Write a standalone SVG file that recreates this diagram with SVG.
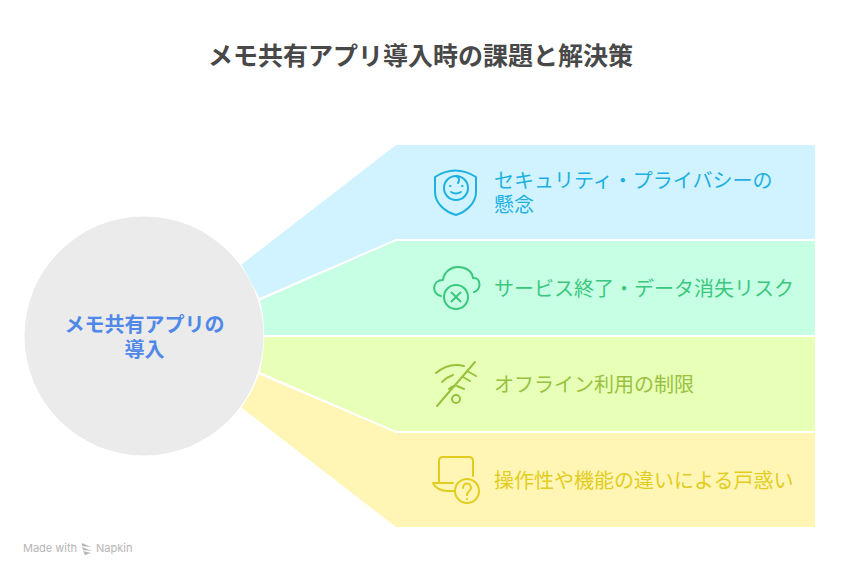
<svg xmlns="http://www.w3.org/2000/svg" width="841" height="576" viewBox="0 0 841 576">
<style>
text{font-family:"Noto Sans CJK JP","Noto Sans",sans-serif}
.t{font-size:20px;font-weight:400}
.c{font-size:20px;font-weight:700;fill:#4f88e8;text-anchor:middle}
.m{font-size:11px;font-family:"Inter","Noto Sans",sans-serif}
.i{fill:none;stroke-width:2;stroke-linecap:round;stroke-linejoin:round}
</style>
<rect width="841" height="576" fill="#fff"/>
<text x="420.500" y="65" text-anchor="middle" font-size="25" font-weight="700" fill="#484848">メモ共有アプリ導入時の課題と解決策</text>
<g id="connectors">
<path d="M241.500 264.500L396 145H815V239H396L259.500 298Z" fill="#d0f3ff"/>
<path d="M260 300.500L396 241H815V335H264Q264 315 260 300.500Z" fill="#c7ffe4"/>
<path d="M264 337H815V431H396L260 372Q264 355 264 337Z" fill="#e8ffb7"/>
<path d="M259 374.500L396 433H815V527H396L241.500 407.500Q252 393 259 374.500Z" fill="#fff6b5"/>
</g>
<g id="center">
<circle cx="144" cy="336" r="119.500" fill="#ebebeb"/>
<text class="c"><tspan x="144.500" y="332">メモ共有アプリの</tspan><tspan x="144.500" y="357">導入</tspan></text>
</g>
<g id="node-security">
<g class="i" stroke="#1eb0e0">
<path d="M435 177Q455 164 476 177V192C476 203 466 212 456 215C445 212 435 203 435 192Z"/>
<circle cx="456" cy="188" r="12"/>
<path d="M456 176Q461 178 458 183"/><path d="M451 192Q456 195 461 192"/>
<path d="M450 186h.5M462 186h.5"/>
</g>
<text class="t" fill="#1eb0e0"><tspan x="494" y="188">セキュリティ・プライバシーの</tspan><tspan x="494" y="212">懸念</tspan></text>
</g>
<g id="node-service">
<g class="i" stroke="#3cc77e">
<path d="M441 296C431 294 432 280 443 280C444 271 452 267 458 267C466 267 472 271 473 278C482 277 481 291 474 292"/>
<circle cx="456" cy="297" r="12"/>
<path d="M451.500 292.500L460.500 301.500M460.500 292.500L451.500 301.500"/>
</g>
<text class="t" x="494" y="296" fill="#3cc77e">サービス終了・データ消失リスク</text>
</g>
<g id="node-offline">
<g class="i" stroke="#98c23e">
<circle cx="456" cy="399" r="4"/>
<path d="M437 406L475 362"/>
<path d="M436 373Q449 362 464 366M442 382Q447 377 453 375M449 389Q452 386 455 386M457 386L464 389M463 377L470 381M467 371L476 376"/>
</g>
<text class="t" x="494" y="392" fill="#98c23e">オフライン利用の制限</text>
</g>
<g id="node-confusion">
<g class="i" stroke="#e2cc1f">
<path d="M439 483V461Q439 457 443 457H469Q473 457 473 461V476"/>
<path d="M433 483H453M433 483Q437 491 448 491H455"/>
<circle cx="467" cy="491" r="12"/>
<path d="M463 488C463 482 471 482 471 488C471 491 467 491 467 495M467 499h.1"/>
</g>
<text class="t" x="494" y="488" fill="#e2cc1f">操作性や機能の違いによる戸惑い</text>
</g>
<g id="watermark" fill="#b5b5b5">
<text class="m" x="23" y="552">Made with</text>
<path d="M82 543L91 547L82 546ZM82 547L92 551L83 550ZM83 551L91 553L85 555Z"/>
<text class="m" x="96" y="552">Napkin</text>
</g>
</svg>
